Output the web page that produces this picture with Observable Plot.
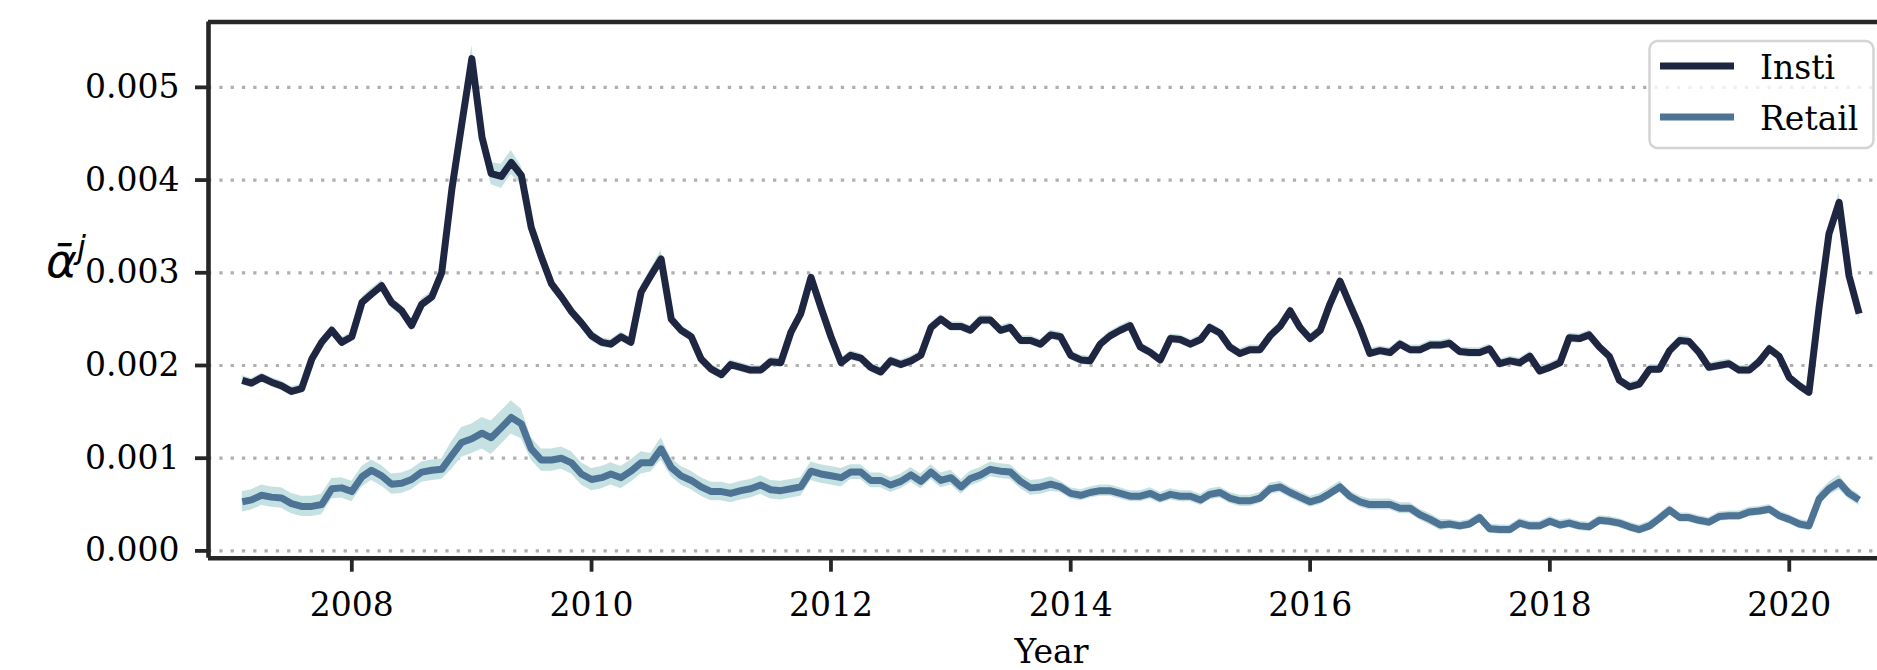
<!DOCTYPE html>
<html><head><meta charset="utf-8">
<script src="https://cdn.jsdelivr.net/npm/d3@7"></script>
<script src="https://cdn.jsdelivr.net/npm/@observablehq/plot@0.6"></script>
<style>html,body{margin:0;padding:0;background:#fff;} svg{display:block}</style>
</head><body><div id="chart"></div>
<script>
// ---- data (monthly, first point = end of Jan 2007) ----
const seriesNames = ["Insti", "Retail"];
const startYear = 2007;

const insti = [
  0.00184, 0.00181, 0.00187, 0.00182, 0.00178, 0.00172, 0.00175, 0.00207, 0.00225, 0.00238, 0.00225, 0.00231, 0.00268, 0.00277, 0.00286, 0.00268, 0.00259, 0.00243, 0.00266, 0.00274, 0.00300,
  0.00390, 0.00460, 0.00531, 0.00446, 0.00407, 0.00404, 0.00419, 0.00405, 0.00349, 0.00317, 0.00288, 0.00274, 0.00258, 0.00246, 0.00232, 0.00225, 0.00223, 0.00231, 0.00225, 0.00279,
  0.00297, 0.00315, 0.00250, 0.00238, 0.00231, 0.00207, 0.00196, 0.00190, 0.00201, 0.00198, 0.00195, 0.00195, 0.00204, 0.00203, 0.00236, 0.00256, 0.00295, 0.00263, 0.00231, 0.00203,
  0.00211, 0.00208, 0.00198, 0.00193, 0.00205, 0.00201, 0.00205, 0.00211, 0.00241, 0.00250, 0.00242, 0.00242, 0.00238, 0.00249, 0.00249, 0.00238, 0.00241, 0.00227, 0.00227, 0.00223, 0.00233,
  0.00231, 0.00211, 0.00206, 0.00205, 0.00223, 0.00232, 0.00238, 0.00243, 0.00220, 0.00214, 0.00206, 0.00229, 0.00228, 0.00223, 0.00228, 0.00241, 0.00235, 0.00220, 0.00213, 0.00217, 0.00217,
  0.00232, 0.00242, 0.00259, 0.00241, 0.00229, 0.00238, 0.00266, 0.00291, 0.00266, 0.00241, 0.00213, 0.00216, 0.00214, 0.00223, 0.00217, 0.00217, 0.00222, 0.00222, 0.00224, 0.00215, 0.00214,
  0.00214, 0.00218, 0.00202, 0.00205, 0.00203, 0.00210, 0.00194, 0.00198, 0.00203, 0.00230, 0.00229, 0.00233, 0.00220, 0.00210, 0.00184, 0.00177, 0.00180, 0.00196, 0.00196, 0.00216,
  0.00227, 0.00226, 0.00214, 0.00198, 0.00200, 0.00202, 0.00195, 0.00195, 0.00204, 0.00218, 0.00210, 0.00187, 0.00178, 0.00171, 0.00263, 0.00342, 0.00376, 0.00297, 0.00256
];

const retail = [
  0.00053, 0.00055, 0.00060, 0.00058, 0.00057, 0.00051, 0.00048, 0.00048, 0.00050, 0.00067, 0.00068, 0.00064, 0.00080, 0.00087, 0.00081, 0.00072, 0.00073, 0.00077, 0.00085, 0.00087, 0.00088,
  0.00103, 0.00117, 0.00121, 0.00127, 0.00122, 0.00133, 0.00144, 0.00137, 0.00110, 0.00098, 0.00098, 0.00100, 0.00095, 0.00083, 0.00077, 0.00079, 0.00083, 0.00079, 0.00086, 0.00095,
  0.00095, 0.00110, 0.00090, 0.00081, 0.00076, 0.00069, 0.00064, 0.00064, 0.00062, 0.00065, 0.00067, 0.00071, 0.00066, 0.00065, 0.00067, 0.00069, 0.00086, 0.00083, 0.00081, 0.00079,
  0.00085, 0.00085, 0.00076, 0.00076, 0.00071, 0.00075, 0.00082, 0.00075, 0.00085, 0.00076, 0.00079, 0.00069, 0.00078, 0.00082, 0.00088, 0.00086, 0.00085, 0.00075, 0.00068, 0.00069, 0.00072,
  0.00069, 0.00062, 0.00060, 0.00063, 0.00065, 0.00065, 0.00062, 0.00059, 0.00059, 0.00062, 0.00057, 0.00061, 0.00059, 0.00059, 0.00055, 0.00061, 0.00063, 0.00057, 0.00054, 0.00054, 0.00057,
  0.00067, 0.00069, 0.00063, 0.00058, 0.00053, 0.00056, 0.00062, 0.00069, 0.00059, 0.00053, 0.00050, 0.00050, 0.00050, 0.00046, 0.00046, 0.00039, 0.00034, 0.00028, 0.00029, 0.00027, 0.00029,
  0.00036, 0.00024, 0.00023, 0.00023, 0.00030, 0.00027, 0.00027, 0.00032, 0.00028, 0.00030, 0.00027, 0.00026, 0.00033, 0.00032, 0.00030, 0.00026, 0.00023, 0.00027, 0.00035, 0.00044,
  0.00036, 0.00036, 0.00033, 0.00031, 0.00037, 0.00038, 0.00038, 0.00042, 0.00043, 0.00045, 0.00038, 0.00034, 0.00029, 0.00027, 0.00056, 0.00067, 0.00074, 0.00062, 0.00055
];

// half-width of the confidence band, in units of 1e-5
const instiErr = [
  5, 5, 5, 5, 5, 5, 5, 5, 5, 5, 5, 5, 6, 6, 6, 6, 6, 6, 6, 6, 6,
  10, 12, 14, 12, 12, 13, 13, 10, 8, 7, 7, 6, 6, 6, 6, 5, 5, 5, 5, 7,
  8, 9, 5, 5, 5, 5, 5, 5, 5, 5, 5, 5, 5, 5, 5, 5, 5, 5, 5, 5,
  5, 5, 5, 5, 5, 5, 5, 5, 5, 5, 5, 5, 5, 5, 5, 5, 5, 5, 5, 5, 5,
  5, 5, 5, 5, 5, 5, 5, 5, 5, 5, 5, 5, 5, 5, 5, 5, 5, 5, 5, 5, 5,
  5, 5, 5, 5, 5, 5, 5, 5, 5, 5, 5, 5, 5, 5, 5, 5, 5, 5, 5, 5, 5,
  5, 5, 5, 5, 5, 5, 5, 5, 5, 5, 5, 5, 5, 5, 5, 5, 5, 5, 5, 5,
  5, 5, 5, 5, 5, 5, 5, 5, 5, 5, 5, 5, 5, 5, 8, 9, 10, 8, 7
];
const retailErr = [
  11, 11, 11, 11, 11, 11, 11, 11, 11, 11, 11, 11, 11, 11, 11, 11, 11, 11, 11, 11, 11,
  15, 16, 16, 17, 18, 18, 18, 16, 12, 12, 12, 12, 12, 12, 12, 12, 12, 12, 12, 12,
  10, 12, 10, 10, 10, 10, 10, 10, 10, 10, 10, 10, 10, 10, 10, 10, 10, 10, 10, 10,
  8, 8, 8, 8, 8, 8, 8, 8, 8, 8, 8, 8, 8, 8, 8, 8, 8, 8, 8, 8, 8,
  6, 6, 6, 6, 6, 6, 6, 6, 6, 6, 6, 6, 6, 6, 6, 6, 6, 6, 6, 6, 6,
  6, 6, 6, 6, 6, 6, 6, 6, 6, 6, 6, 6, 6, 6, 6, 6, 6, 6, 5, 5, 5,
  5, 5, 5, 5, 5, 5, 5, 5, 5, 5, 5, 5, 5, 5, 5, 5, 5, 5, 5, 5,
  5, 5, 5, 5, 5, 5, 5, 5, 5, 5, 5, 5, 5, 5, 7, 7, 8, 6, 6
];

const yTicks = [0, 0.001, 0.002, 0.003, 0.004, 0.005];
const xTickYears = [2008, 2010, 2012, 2014, 2016, 2018, 2020];
const xLabel = "Year";

// ---- styles ----
const colors = {Insti: "#1f2642", Retail: "#4e7495"};
const bandColor = "#c6e1e2";
const axisColor = "#262626";
const serif = "DejaVu Serif";
const lineW = 7;

if ([retail, instiErr, retailErr].some(a => a.length !== insti.length)) {
  console.error("length mismatch", insti.length, retail.length, instiErr.length, retailErr.length);
}

const rows = insti.map((v, i) => ({
  date: new Date(Date.UTC(startYear, i + 1, 1)),
  insti: v,
  instiLo: v - instiErr[i] * 1e-5,
  instiHi: v + instiErr[i] * 1e-5,
  retail: retail[i],
  retailLo: retail[i] - retailErr[i] * 1e-5,
  retailHi: retail[i] + retailErr[i] * 1e-5
}));

const xDomain = [new Date(Date.UTC(2006, 9, 21)), new Date(Date.UTC(2020, 8, 26))];
const yDomain = [-0.0000787, 0.005705];
const xTickDates = xTickYears.map(y => new Date(Date.UTC(y, 0, 1)));

const chart = Plot.plot({
  width: 1877,
  height: 670,
  marginLeft: 208,
  marginRight: 0,
  marginTop: 21.5,
  marginBottom: 112.3,
  style: {fontFamily: serif, fontSize: "33px", color: "#000", background: "#fff", overflow: "visible"},
  x: {type: "utc", domain: xDomain},
  y: {domain: yDomain},
  marks: [
    Plot.gridY(yTicks, {stroke: "#b0b0b0", strokeOpacity: 1, strokeWidth: 3.2, strokeDasharray: "3.3,8"}),
    Plot.areaY(rows, {x: "date", y1: "instiLo", y2: "instiHi", fill: bandColor}),
    Plot.areaY(rows, {x: "date", y1: "retailLo", y2: "retailHi", fill: bandColor}),
    Plot.line(rows, {x: "date", y: "insti", stroke: colors.Insti, strokeWidth: lineW, strokeLinejoin: "round", strokeLinecap: "butt"}),
    Plot.line(rows, {x: "date", y: "retail", stroke: colors.Retail, strokeWidth: lineW, strokeLinejoin: "round", strokeLinecap: "butt"}),
    Plot.axisY(yTicks, {tickFormat: d3.format(".3f"), tickSize: 13, tickPadding: 16, stroke: axisColor, strokeWidth: 3.8, fontSize: 33, label: null}),
    Plot.axisX(xTickDates, {tickFormat: d3.utcFormat("%Y"), tickSize: 14, tickPadding: 20, stroke: axisColor, strokeWidth: 3.8, fontSize: 33, label: null}),
    Plot.ruleX([xDomain[0]], {stroke: axisColor, strokeWidth: 4.6}),
    Plot.ruleY([yDomain[0], yDomain[1]], {stroke: axisColor, strokeWidth: 4.6}),
    Plot.text([xLabel], {frameAnchor: "bottom", lineAnchor: "top", dy: 81, dx: 8.5, fontSize: 33, fill: "#000"})
  ]
});

document.getElementById("chart").appendChild(chart);

const svg = d3.select(chart);

// y label: alpha-bar with superscript j
const yl = svg.append("text")
  .attr("x", 46).attr("y", 277)
  .attr("text-anchor", "start")
  .attr("font-family", "DejaVu Sans").attr("font-style", "italic")
  .attr("font-size", 47).attr("fill", "#000");
yl.append("tspan").text("\u1FB1");
yl.append("tspan").attr("font-size", 32).attr("dy", -19).text("j");

// legend
const lg = svg.append("g");
lg.append("rect")
  .attr("x", 1649.5).attr("y", 41).attr("width", 224).attr("height", 107).attr("rx", 8)
  .attr("fill", "#fff").attr("fill-opacity", 0.8)
  .attr("stroke", "#d4d4d4").attr("stroke-width", 2.5);
seriesNames.forEach((name, k) => {
  const yy = 66 + k * 51;
  lg.append("line").attr("x1", 1660).attr("x2", 1734).attr("y1", yy).attr("y2", yy)
    .attr("stroke", colors[name]).attr("stroke-width", lineW);
  lg.append("text").attr("x", 1760).attr("y", yy + 13).attr("text-anchor", "start")
    .attr("font-family", serif).attr("font-size", 33).attr("fill", "#000").text(name);
});
</script>
</body></html>
